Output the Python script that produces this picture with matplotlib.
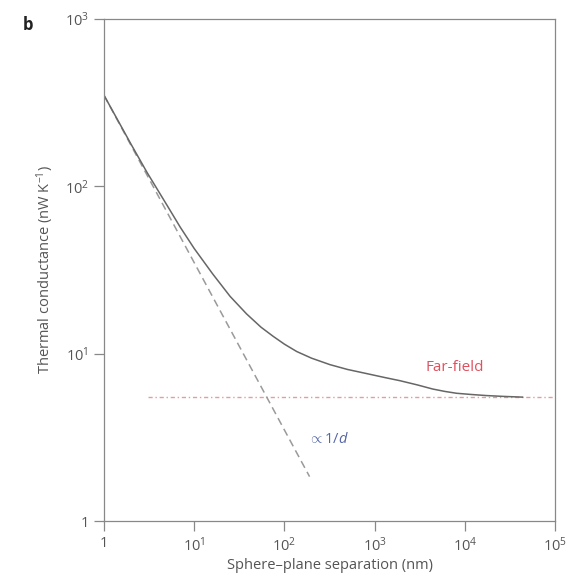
import numpy as np
import matplotlib
matplotlib.use("Agg")
import matplotlib.pyplot as plt

plt.rcParams['font.family'] = ['Open Sans', 'DejaVu Sans']
plt.rcParams['mathtext.fontset'] = 'custom'
plt.rcParams['mathtext.rm'] = 'Open Sans'
plt.rcParams['mathtext.it'] = 'Open Sans:italic'

# curve
d = [1, 2, 3, 5, 7, 10, 16, 25, 38, 55, 75, 100, 137, 200, 320, 500, 820,
     1300, 1900, 3000, 4400, 6000, 8100, 12000, 17400, 26000, 43600]
g = [350, 178, 121, 77, 57, 42.5, 30, 22, 17.3, 14.4, 12.7, 11.4, 10.3, 9.4,
     8.6, 8.05, 7.6, 7.2, 6.9, 6.5, 6.15, 5.95, 5.8, 5.7, 5.62, 5.56, 5.5]

# 1/d guide
d_guide = [1, 190]
g_guide = [350, 350 / 190]

# far-field limit
d_far = [3.1, 1e5]
g_far = [5.5, 5.5]

xticks = [1, 1e1, 1e2, 1e3, 1e4, 1e5]
xlabels = ['1', '$10^1$', '$10^2$', '$10^3$', '$10^4$', '$10^5$']
yticks = [1, 1e1, 1e2, 1e3]
ylabels = ['1', '$10^1$', '$10^2$', '$10^3$']

fig = plt.figure(figsize=(5.7, 5.87), dpi=100)
ax = fig.add_axes([0.1825, 0.1124, 0.7912, 0.8552])

ax.plot(d_far, g_far, color='#e89aa0', lw=1.0, linestyle=(0, (3, 2, 1, 2)))
ax.plot(d_guide, g_guide, color='#9a9a9a', lw=1.1, linestyle=(0, (5, 3)))
ax.plot(d, g, color='#666666', lw=1.1)

ax.set_xscale('log')
ax.set_yscale('log')
ax.set_xlim(1, 1e5)
ax.set_ylim(1, 1e3)
ax.set_xticks(xticks)
ax.set_xticklabels(xlabels)
ax.set_yticks(yticks)
ax.set_yticklabels(ylabels)
ax.minorticks_off()
ax.tick_params(direction='out', length=7, width=0.9, color='#888888',
               labelsize=10.5, labelcolor='#555555', pad=4)
for s in ax.spines.values():
    s.set_color('#888888')
    s.set_linewidth(0.9)

ax.text(7700, 8.3, 'Far-field', color='#e0505e', fontsize=11, ha='center', va='center')
ax.text(181, 3.05, r'$\propto$1/$d$', color='#5565a5', fontsize=10.5, ha='left', va='center')

ax.set_xlabel('Sphere\u2013plane separation (nm)', fontsize=10.5, color='#555555', labelpad=2)
ax.set_ylabel('Thermal conductance (nW K$^{-1}$)', fontsize=10.5, color='#555555', labelpad=6)

fig.text(0.04, 0.957, 'b', fontsize=12, fontweight='bold', color='#222222', va='center')

fig.savefig('out.png', dpi=100)
